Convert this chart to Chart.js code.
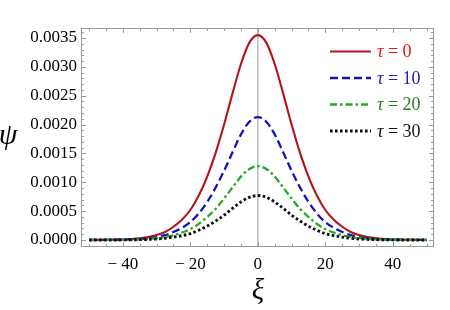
<!DOCTYPE html>
<html>
<head>
<meta charset="utf-8">
<script src="https://cdn.jsdelivr.net/npm/chart.js@4.4.1/dist/chart.umd.min.js"></script>
<style>
html,body{margin:0;padding:0;background:#fff;}
#c{display:block;}
</style>
</head>
<body>
<canvas id="c" width="450" height="310"></canvas>
<script>
// ---- data ----
const xi = [-50,-47.5,-45,-42.5,-40,-37.5,-35,-32.5,-30,-27.5,-25,-22.5,-20,-17.5,-15,-12.5,-10,-7.5,-5,-2.5,0,
            2.5,5,7.5,10,12.5,15,17.5,20,22.5,25,27.5,30,32.5,35,37.5,40,42.5,45,47.5,50];
const psiTau0  = [0.000001,0.000002,0.000004,0.000006,0.00001,0.000018,0.00003,0.00005,0.000085,0.00014,0.00023,0.00035,0.00052,0.00077,0.00110,0.00151,0.00200,0.00254,0.00305,0.00342,0.00355,
                  0.00342,0.00305,0.00254,0.00200,0.00151,0.00110,0.00077,0.00052,0.00035,0.00023,0.00014,0.000085,0.00005,0.00003,0.000018,0.00001,0.000006,0.000004,0.000002,0.000001];
const psiTau10 = [0.000001,0.000001,0.000002,0.000004,0.000006,0.000011,0.000018,0.00003,0.000051,0.000084,0.00014,0.00021,0.00031,0.00046,0.00066,0.00091,0.00120,0.00152,0.00183,0.00205,0.00213,
                  0.00205,0.00183,0.00152,0.00120,0.00091,0.00066,0.00046,0.00031,0.00021,0.00014,0.000084,0.000051,0.00003,0.000018,0.000011,0.000006,0.000004,0.000002,0.000001,0.000001];
const psiTau20 = [0,0.000001,0.000001,0.000002,0.000004,0.000006,0.000011,0.000018,0.000031,0.00005,0.000083,0.00013,0.00019,0.00028,0.00040,0.00054,0.00072,0.00091,0.00110,0.00123,0.00128,
                  0.00123,0.00110,0.00091,0.00072,0.00054,0.00040,0.00028,0.00019,0.00013,0.000083,0.00005,0.000031,0.000018,0.000011,0.000006,0.000004,0.000002,0.000001,0.000001,0];
const psiTau30 = [0,0,0.000001,0.000001,0.000002,0.000004,0.000007,0.000011,0.000018,0.00003,0.00005,0.000076,0.00011,0.00017,0.00024,0.00033,0.00043,0.00055,0.00066,0.00074,0.00077,
                  0.00074,0.00066,0.00055,0.00043,0.00033,0.00024,0.00017,0.00011,0.000076,0.00005,0.00003,0.000018,0.000011,0.000007,0.000004,0.000002,0.000001,0.000001,0,0];
const seriesNames = ['0','10','20','30'];
const xTicks = [-40,-20,0,20,40];
const xMinorTicks = [-50,-45,-40,-35,-30,-25,-20,-15,-10,-5,0,5,10,15,20,25,30,35,40,45,50];
const yTicks = [0,0.0005,0.0010,0.0015,0.0020,0.0025,0.0030,0.0035];
const yMinorTicks = [0,0.0001,0.0002,0.0003,0.0004,0.0005,0.0006,0.0007,0.0008,0.0009,0.0010,0.0011,0.0012,0.0013,0.0014,0.0015,0.0016,0.0017,0.0018,0.0019,0.0020,0.0021,0.0022,0.0023,0.0024,0.0025,0.0026,0.0027,0.0028,0.0029,0.0030,0.0031,0.0032,0.0033,0.0034,0.0035,0.0036];

// ---- styles ----
const lineColors = ['#b3141b','#1414b4','#22aa22','#111111'];
const legendTextColors = ['#ee1111','#2020bb','#2a7a2a','#111111'];
const dashes = [[], [8,4], [7,3,2.5,3], [2.6,2.4]];
const widths = [2.1, 2.3, 2.3, 2.9];
const serif = '"Liberation Serif","DejaVu Serif",serif';
const frameColor = '#9a9a9a';

function pts(arr){ return xi.map((x,i)=>({x:x, y:arr[i]})); }
const allSeries = [psiTau0, psiTau10, psiTau20, psiTau30];

const decor = {
  id:'decor',
  beforeDatasetsDraw(chart){
    const {ctx, chartArea:a, scales:{x}} = chart;
    ctx.save();
    const x0 = x.getPixelForValue(0);
    ctx.strokeStyle = '#b4b4b4';
    ctx.lineWidth = 1.4;
    ctx.beginPath(); ctx.moveTo(x0, a.top); ctx.lineTo(x0, a.bottom); ctx.stroke();
    ctx.restore();
  },
  afterDatasetsDraw(chart){
    const {ctx, chartArea:a, scales:{x,y}} = chart;
    ctx.save();
    ctx.strokeStyle = frameColor;
    ctx.lineWidth = 1;
    ctx.strokeRect(a.left+0.5, a.top+0.5, a.right-a.left-1, a.bottom-a.top-1);
    ctx.beginPath();
    xMinorTicks.forEach(v=>{
      const px = Math.round(x.getPixelForValue(v))+0.5;
      const len = xTicks.includes(v) ? 5 : 3;
      ctx.moveTo(px, a.bottom); ctx.lineTo(px, a.bottom-len);
      ctx.moveTo(px, a.top); ctx.lineTo(px, a.top+len);
    });
    yMinorTicks.forEach(v=>{
      const py = Math.round(y.getPixelForValue(v))+0.5;
      const major = yTicks.some(t=>Math.abs(t-v)<1e-9);
      const len = major ? 5 : 3;
      ctx.moveTo(a.left, py); ctx.lineTo(a.left+len, py);
      ctx.moveTo(a.right, py); ctx.lineTo(a.right-len, py);
    });
    ctx.stroke();

    // legend
    seriesNames.forEach((name,i)=>{
      const yy = 51.5 + i*26.5;
      ctx.strokeStyle = lineColors[i];
      ctx.lineWidth = widths[i];
      ctx.setLineDash(dashes[i]);
      ctx.beginPath(); ctx.moveTo(330, yy); ctx.lineTo(371, yy); ctx.stroke();
      ctx.setLineDash([]);
      ctx.fillStyle = legendTextColors[i];
      ctx.textBaseline = 'middle';
      ctx.textAlign = 'left';
      ctx.font = 'italic 18px ' + serif;
      ctx.fillText('τ', 377, yy+1);
      const tw = ctx.measureText('τ').width;
      ctx.font = '18px ' + serif;
      ctx.fillText(' = ' + name, 377+tw, yy+1);
    });

    ctx.fillStyle = '#000';
    ctx.textAlign = 'center';
    ctx.textBaseline = 'middle';
    ctx.font = 'italic 30px ' + serif;
    ctx.fillText('ψ', 8, 136);
    ctx.font = 'italic 29px ' + serif;
    ctx.fillText('ξ', x.getPixelForValue(0), 291);
    ctx.restore();
  }
};

new Chart(document.getElementById('c'), {
  type:'line',
  data:{
    datasets: allSeries.map((arr,i)=>({
      label:'τ = '+seriesNames[i],
      data: pts(arr),
      borderColor: lineColors[i],
      borderWidth: widths[i],
      borderDash: dashes[i],
      pointRadius: 0,
      fill:false,
      cubicInterpolationMode:'monotone'
    })).reverse()
  },
  options:{
    responsive:false,
    animation:false,
    devicePixelRatio:1,
    layout:{padding:{left:0, right:16, top:28, bottom:0}},
    plugins:{legend:{display:false}, tooltip:{enabled:false}},
    scales:{
      x:{
        type:'linear', min:-52.4, max:52.2,
        grid:{display:false, drawTicks:false},
        border:{display:false},
        afterBuildTicks(s){ s.ticks = xTicks.map(v=>({value:v})); },
        afterFit(s){ s.height = 63; },
        ticks:{
          padding:7, color:'#000', maxRotation:0, autoSkip:false,
          font:{family:serif, size:17},
          callback:(v)=> v<0 ? '− ' + Math.abs(v) : String(v)
        }
      },
      y:{
        type:'linear', min:-0.000121, max:0.003673,
        grid:{display:false, drawTicks:false},
        border:{display:false},
        afterBuildTicks(s){ s.ticks = yTicks.map(v=>({value:v})); },
        afterFit(s){ s.width = 81; },
        ticks:{
          padding:4, color:'#000', autoSkip:false,
          font:{family:serif, size:17},
          callback:(v)=> Number(v).toFixed(4)
        }
      }
    }
  },
  plugins:[decor]
});
</script>
</body>
</html>
